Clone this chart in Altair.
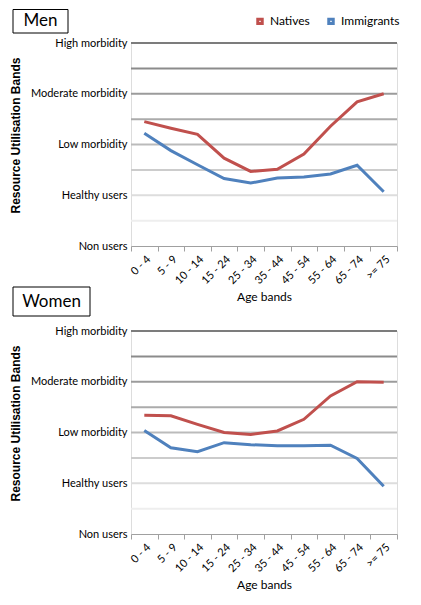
import json
import altair as alt
import pandas as pd

ages = ["0 - 4", "5 - 9", "10 - 14", "15 - 24", "25 - 34", "35 - 44",
        "45 - 54", "55 - 64", "65 - 74", ">= 75"]
bands = ["Non users", "Healthy users", "Low morbidity", "Moderate morbidity", "High morbidity"]
series = ["Natives", "Immigrants"]

men_natives = [2.45, 2.32, 2.20, 1.73, 1.47, 1.51, 1.81, 2.36, 2.84, 3.00]
men_immigrants = [2.22, 1.88, 1.60, 1.33, 1.24, 1.34, 1.36, 1.42, 1.59, 1.07]
women_natives = [2.34, 2.33, 2.16, 2.00, 1.96, 2.03, 2.26, 2.72, 3.00, 2.99]
women_immigrants = [2.04, 1.70, 1.62, 1.80, 1.76, 1.74, 1.74, 1.75, 1.49, 0.94]

grid_levels = [0.5, 1, 1.5, 2, 2.5, 3, 3.5, 4]

RED = "#c0504d"
BLUE = "#4f81bd"
FONT = "Lato"


def make_df(nat, imm):
    rows = []
    for a, v in zip(ages, nat):
        rows.append({"age": a, "series": "Natives", "value": v})
    for a, v in zip(ages, imm):
        rows.append({"age": a, "series": "Immigrants", "value": v})
    return pd.DataFrame(rows)


grid_df = pd.DataFrame({"level": grid_levels})
label_expr = json.dumps(bands) + "[datum.value]"

W, H = 266, 203


def y_axis():
    return alt.Axis(values=[0, 1, 2, 3, 4], labelExpr=label_expr, grid=False,
                    ticks=False, domain=False, labelFont=FONT, labelFontSize=11,
                    labelColor="#000000", labelPadding=4,
                    title="Resource Utilisation Bands", titleFont="Liberation Sans",
                    titleFontSize=12, titleFontWeight="bold", titleColor="#000000",
                    titlePadding=8, minExtent=101, maxExtent=101, titleY=92)


def panel(nat, imm, label, box, show_legend):
    df = make_df(nat, imm)
    yscale = alt.Scale(domain=[0, 4], nice=False, zero=False)
    grid = alt.Chart(grid_df).mark_rule(strokeWidth=2).encode(
        y=alt.Y("level:Q", scale=yscale, axis=y_axis()),
        stroke=alt.Stroke("level:Q", legend=None,
                          scale=alt.Scale(domain=[0.5, 4], range=["#eeeeee", "#7c7c7c"])),
    )
    legend = alt.Legend(orient="none", legendX=123, legendY=-28, direction="horizontal",
                        title=None, symbolType="square", symbolSize=20,
                        symbolStrokeWidth=3, labelFont=FONT, labelFontSize=12,
                        labelColor="#000000", labelOffset=4, columnPadding=12) if show_legend else None
    lines = alt.Chart(df).mark_line(strokeWidth=3).encode(
        x=alt.X("age:N", sort=ages, bandPosition=0.5,
                scale=alt.Scale(type="band", paddingInner=0, paddingOuter=0),
                axis=alt.Axis(title="Age bands", labelAngle=-45, labelFont=FONT,
                              labelFontSize=11, labelColor="#000000", tickBand="extent",
                              tickSize=5, tickColor="#a0a0a0", domainColor="#a0a0a0",
                              labelPadding=2, titleFont=FONT, titleFontSize=12,
                              titleFontWeight="normal", titleColor="#000000",
                              titlePadding=6, grid=False)),
        y=alt.Y("value:Q", scale=yscale, axis=y_axis()),
        color=alt.Color("series:N", sort=series,
                        scale=alt.Scale(domain=series, range=[RED, BLUE]),
                        legend=legend),
    )
    x0, x1, y0, y1, tx, ty = box
    rect = alt.Chart(pd.DataFrame({"t": [label]})).mark_rect(
        fill="white", stroke="black", strokeWidth=1).encode(
        x=alt.value(x0), x2=alt.value(x1), y=alt.value(y0), y2=alt.value(y1))
    text = alt.Chart(pd.DataFrame({"t": [label]})).mark_text(
        font=FONT, fontSize=17, color="#000000", align="center", baseline="middle").encode(
        text="t:N", x=alt.value(tx), y=alt.value(ty))
    return alt.layer(grid, rect, text, lines).properties(width=W, height=H)


men = panel(men_natives, men_immigrants, "Men", (-118, -63, -33.5, -10, -90.5, -22), True)
women = panel(women_natives, women_immigrants, "Women", (-118, -41, -44, -15, -79.5, -29.5), False)

chart = alt.vconcat(men, women, spacing=-18).resolve_scale(color="independent").properties(
    padding=0).configure_view(stroke=None).configure(background="white")

chart.save("out.html", embed_options={"renderer": "svg", "actions": False})
